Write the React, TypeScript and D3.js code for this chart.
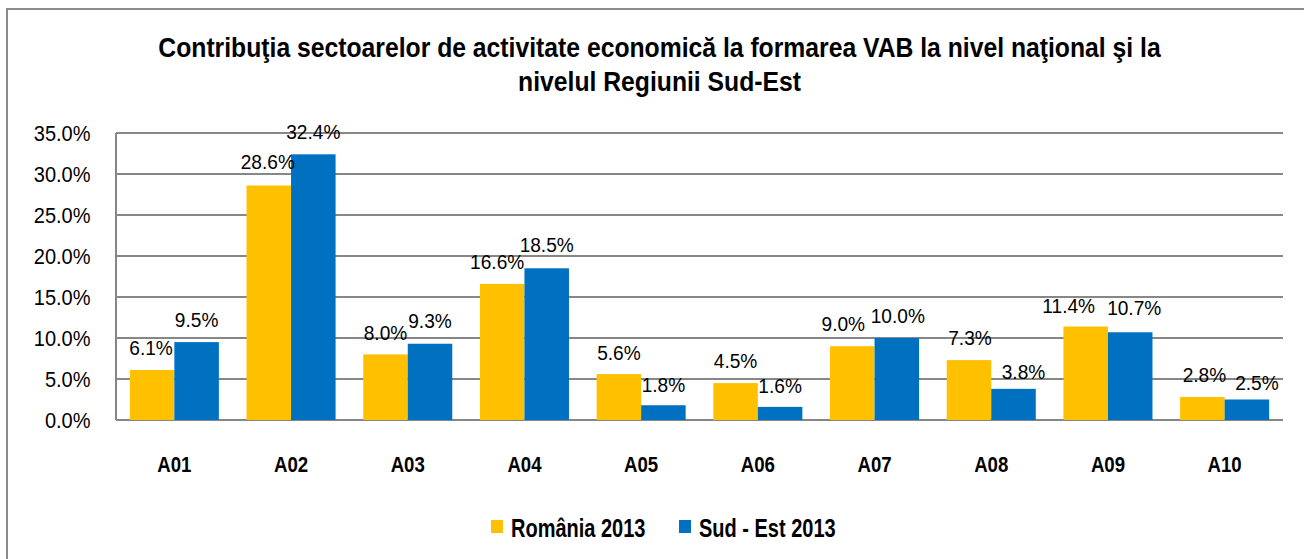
import React from "react";
import * as d3 from "d3";

const categories = ["A01", "A02", "A03", "A04", "A05", "A06", "A07", "A08", "A09", "A10"];
const seriesNames = ["România 2013", "Sud - Est 2013"];
const romania = [6.1, 28.6, 8.0, 16.6, 5.6, 4.5, 9.0, 7.3, 11.4, 2.8];
const sudEst = [9.5, 32.4, 9.3, 18.5, 1.8, 1.6, 10.0, 3.8, 10.7, 2.5];
const yTicks = [0, 5, 10, 15, 20, 25, 30, 35];
const colors = ["#FFC000", "#0070C0"];
const titleLines = [
  "Contribuţia sectoarelor de activitate economică la formarea VAB la nivel naţional şi la",
  "nivelul Regiunii Sud-Est",
];

// manual nudges of data labels (as placed in the original chart), px
const nudgeXRomania = [-1, -1, 0, -5, 0, 0, -9, 1, -17, 2];
const nudgeXSudEst = [0, 0, 0, 0, 0, 0, 1, 10, 4, 10];
const nudgeYRomania = [0, -1, 1, 0, 1, 0, 0, 0, 1, 0];
const nudgeYSudEst = [0, 0, -1, -1, 2, 1, 0, 5, -2, 5];

const W = 1304;
const H = 559;
const FONT = "'Liberation Sans', Arial, sans-serif";

function NText(props: {
  x: number;
  y: number;
  size: number;
  sx: number;
  anchor?: string;
  bold?: boolean;
  children: React.ReactNode;
}) {
  return (
    <text
      transform={`translate(${props.x},${props.y}) scale(${props.sx},1)`}
      textAnchor={props.anchor || "start"}
      fontSize={props.size}
      fontWeight={props.bold ? "bold" : "normal"}
      fill="#000"
    >
      {props.children}
    </text>
  );
}

export default function App() {
  const left = 116, right = 1283, top = 133, bottom = 420;
  const x = d3.scaleBand<string>().domain(categories).range([left, right]).paddingInner(0.237).paddingOuter(0.1185);
  const xs = d3.scaleBand<number>().domain([0, 1]).range([0, x.bandwidth()]);
  const y = d3.scaleLinear().domain([0, 35]).range([bottom, top]);
  const series = [romania, sudEst];
  const nx = [nudgeXRomania, nudgeXSudEst];
  const ny = [nudgeYRomania, nudgeYSudEst];
  return (
    <svg width={W} height={H} style={{ position: "absolute", left: 0, top: 0 }} fontFamily={FONT}>
      <rect x={0} y={0} width={W} height={H} fill="#fff" />
      <rect x={7} y={9} width={W + 20} height={H + 20} fill="none" stroke="#8c8c8c" strokeWidth={2} />
      {titleLines.map((t, i) => (
        <NText key={i} x={659.5} y={56.7 + i * 34} size={28} sx={0.883} anchor="middle" bold>
          {t}
        </NText>
      ))}
      {yTicks.map((t) => (
        <g key={t}>
          <line x1={left} x2={right} y1={y(t)} y2={y(t)} stroke="#878787" strokeWidth={2} />
          <NText x={90.5} y={y(t) + 8} size={22} sx={0.91} anchor="end">
            {t.toFixed(1)}%
          </NText>
        </g>
      ))}
      <line x1={left} x2={left} y1={top} y2={bottom} stroke="#878787" strokeWidth={2} />
      {categories.map((c, i) => (
        <g key={c}>
          {series.map((s, j) => (
            <rect key={j} x={(x(c) as number) + (xs(j) as number)} y={y(s[i])} width={xs.bandwidth()} height={bottom - y(s[i])} fill={colors[j]} />
          ))}
          {series.map((s, j) => (
            <NText
              key={"l" + j}
              x={(x(c) as number) + (xs(j) as number) + xs.bandwidth() / 2 + nx[j][i]}
              y={y(s[i]) - 15 + ny[j][i]}
              size={21}
              sx={0.91}
              anchor="middle"
            >
              {s[i].toFixed(1)}%
            </NText>
          ))}
          <NText x={(x(c) as number) + x.bandwidth() / 2} y={471.7} size={23} sx={0.81} anchor="middle" bold>
            {c}
          </NText>
        </g>
      ))}
      {seriesNames.map((n, j) => (
        <g key={n} transform={`translate(${[491, 679][j]},0)`}>
          <rect x={0} y={520} width={12} height={13} fill={colors[j]} />
          <NText x={20} y={536.5} size={25} sx={0.8} bold>
            {n}
          </NText>
        </g>
      ))}
    </svg>
  );
}
